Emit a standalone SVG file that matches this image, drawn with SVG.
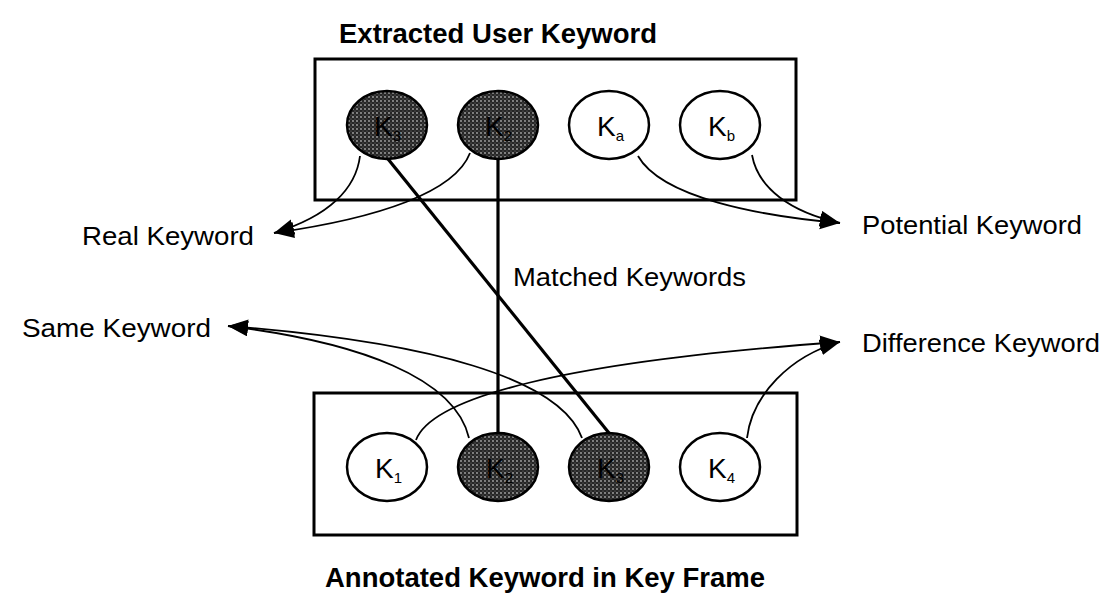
<svg xmlns="http://www.w3.org/2000/svg" width="1120" height="597" viewBox="0 0 1120 597">
  <style>
    .frame { fill: #fff; stroke: #000; stroke-width: 3; }
    .node { stroke: #000; stroke-width: 2.5; }
    .plain { fill: #fff; }
    .dark { fill: url(#stipple); }
    .klabel { font-family: "Liberation Sans", Arial, sans-serif; font-size: 28px; fill: #000; }
    .ksub { font-size: 15px; }
    .title { font-family: "Liberation Sans", Arial, sans-serif; font-size: 27px; font-weight: bold; fill: #000; }
    .label { font-family: "Liberation Sans", Arial, sans-serif; font-size: 25px; fill: #000; }
    .curve { fill: none; stroke: #000; stroke-width: 1.8; }
    .match { fill: none; stroke: #000; stroke-width: 3.2; }
  </style>
  <defs>
    <pattern id="stipple" width="4" height="4" patternUnits="userSpaceOnUse">
      <rect width="4" height="4" fill="#262626"/>
      <circle cx="1" cy="1" r="0.9" fill="#a8a8a8"/>
      <circle cx="3" cy="3" r="0.6" fill="#7a7a7a"/>
    </pattern>
    <marker id="arrow" markerUnits="userSpaceOnUse" markerWidth="22" markerHeight="18" refX="20" refY="8" orient="auto">
      <path d="M0,0 L20,8 L0,16 Z" fill="#000"/>
    </marker>
  </defs>

  <rect width="1120" height="597" fill="#fff"/>

  <!-- frames -->
  <g id="frame-user">
    <rect class="frame" x="315" y="59" width="481" height="141"/>
    <text class="title" x="339" y="43" textLength="318" lengthAdjust="spacingAndGlyphs">Extracted User Keyword</text>
  </g>
  <g id="frame-annotated">
    <rect class="frame" x="314" y="393" width="483" height="142"/>
    <text class="title" x="325" y="587" textLength="440" lengthAdjust="spacingAndGlyphs">Annotated Keyword in Key Frame</text>
  </g>

  <!-- connectors -->
  <g id="connectors">
    <!-- real keyword -->
    <path class="curve" d="M360,156 C356,188 330,216 274,233" marker-end="url(#arrow)"/>
    <path class="curve" d="M470,153 C455,192 380,218 274,233" marker-end="url(#arrow)"/>
    <!-- potential keyword -->
    <path class="curve" d="M638,156 C662,198 760,216 840,223" marker-end="url(#arrow)"/>
    <path class="curve" d="M752,155 C758,188 790,212 840,223" marker-end="url(#arrow)"/>
    <!-- same keyword -->
    <path class="curve" d="M469,438 C455,378 360,342 228,326" marker-end="url(#arrow)"/>
    <path class="curve" d="M582,438 C560,378 430,342 228,326" marker-end="url(#arrow)"/>
    <!-- difference keyword -->
    <path class="curve" d="M416,440 C432,398 560,362 840,342" marker-end="url(#arrow)"/>
    <path class="curve" d="M747,438 C752,395 790,356 840,342" marker-end="url(#arrow)"/>
    <!-- matched keywords -->
    <line class="match" x1="498" y1="159" x2="498" y2="433"/>
    <line class="match" x1="388" y1="159" x2="609" y2="433"/>
  </g>

  <!-- top nodes -->
  <g id="node-u1">
    <ellipse class="node dark" cx="387" cy="125" rx="40" ry="34"/>
    <text class="klabel" x="374" y="136">K<tspan class="ksub" dy="5">3</tspan></text>
  </g>
  <g id="node-u2">
    <ellipse class="node dark" cx="498" cy="125" rx="40" ry="34"/>
    <text class="klabel" x="485" y="136">K<tspan class="ksub" dy="5">2</tspan></text>
  </g>
  <g id="node-ka">
    <ellipse class="node plain" cx="609" cy="125" rx="40" ry="34"/>
    <text class="klabel" x="597" y="136">K<tspan class="ksub" dy="5">a</tspan></text>
  </g>
  <g id="node-kb">
    <ellipse class="node plain" cx="720" cy="125" rx="40" ry="34"/>
    <text class="klabel" x="708" y="136">K<tspan class="ksub" dy="5">b</tspan></text>
  </g>

  <!-- bottom nodes -->
  <g id="node-k1">
    <ellipse class="node plain" cx="387" cy="467" rx="40" ry="34"/>
    <text class="klabel" x="375" y="478">K<tspan class="ksub" dy="5">1</tspan></text>
  </g>
  <g id="node-k2">
    <ellipse class="node dark" cx="498" cy="467" rx="40" ry="34"/>
    <text class="klabel" x="486" y="478">K<tspan class="ksub" dy="5">2</tspan></text>
  </g>
  <g id="node-k3">
    <ellipse class="node dark" cx="609" cy="467" rx="40" ry="34"/>
    <text class="klabel" x="597" y="478">K<tspan class="ksub" dy="5">3</tspan></text>
  </g>
  <g id="node-k4">
    <ellipse class="node plain" cx="720" cy="467" rx="40" ry="34"/>
    <text class="klabel" x="708" y="478">K<tspan class="ksub" dy="5">4</tspan></text>
  </g>

  <!-- side labels -->
  <g id="label-real"><text class="label" x="82" y="245" textLength="172" lengthAdjust="spacingAndGlyphs">Real Keyword</text></g>
  <g id="label-potential"><text class="label" x="862" y="234" textLength="220" lengthAdjust="spacingAndGlyphs">Potential Keyword</text></g>
  <g id="label-matched"><text class="label" x="513" y="286" textLength="233" lengthAdjust="spacingAndGlyphs">Matched Keywords</text></g>
  <g id="label-same"><text class="label" x="22" y="337" textLength="189" lengthAdjust="spacingAndGlyphs">Same Keyword</text></g>
  <g id="label-difference"><text class="label" x="862" y="352" textLength="238" lengthAdjust="spacingAndGlyphs">Difference Keyword</text></g>
</svg>
